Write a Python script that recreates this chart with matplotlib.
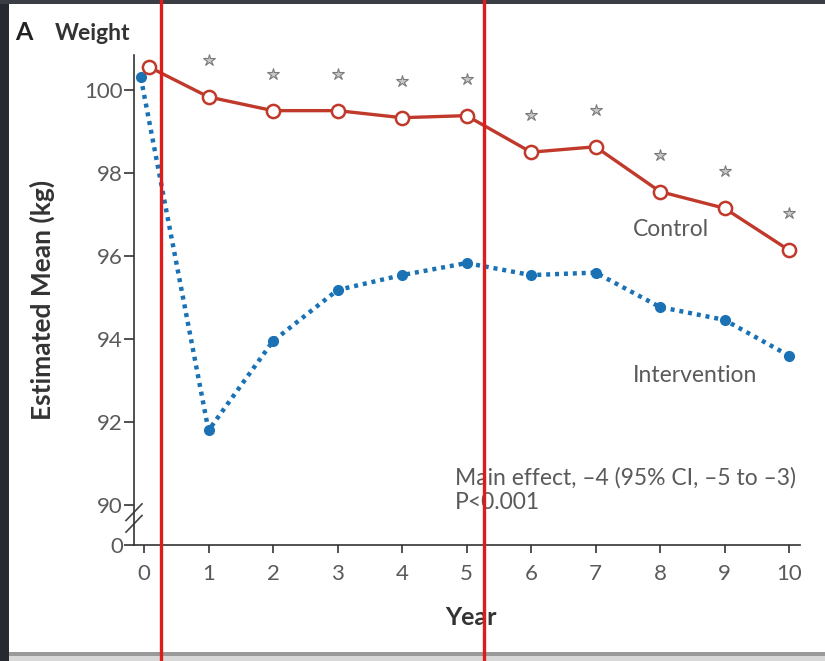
import matplotlib
matplotlib.use("Agg")
import matplotlib.pyplot as plt
from matplotlib.lines import Line2D
from matplotlib.patches import Rectangle
import matplotlib.transforms as mtrans

# ---- data ----
years = [0, 1, 2, 3, 4, 5, 6, 7, 8, 9, 10]
control_x = [0.08, 1, 2, 3, 4, 5, 6, 7, 8, 9, 10]
control = [100.55, 99.83, 99.5, 99.5, 99.33, 99.38, 98.5, 98.63, 97.55, 97.15, 96.14]
intervention_x = [-0.05, 1, 2, 3, 4, 5, 6, 7, 8, 9, 10]
intervention = [100.3, 91.8, 93.95, 95.18, 95.54, 95.83, 95.54, 95.6, 94.77, 94.46, 93.6]
star_years = [1, 2, 3, 4, 5, 6, 7, 8, 9, 10]
ytick_vals = [89.04, 90, 92, 94, 96, 98, 100]
ytick_labels = ["0", "90", "92", "94", "96", "98", "100"]
xtick_labels = [str(y) for y in years]
highlight_x = [0.26, 5.27]   # red overlay lines (data x)

FONT = "Lato"
GRAY = "#5a5a5a"
RED = "#c0392b"
BLUE = "#1a72b5"

fig = plt.figure(figsize=(8.25, 6.61), dpi=100)
fig.patch.set_facecolor("white")

ax = fig.add_axes([134/825, 1-545/661, 666/825, 490/661])
ax.set_xlim(-0.155, 10.17)
ax.set_ylim(89.04, 100.84)
for s in ["top", "right"]:
    ax.spines[s].set_visible(False)
for s in ["left", "bottom"]:
    ax.spines[s].set_color("#333333")
    ax.spines[s].set_linewidth(1.2)

ax.set_xticks(years)
ax.set_xticklabels(xtick_labels, fontfamily=FONT, fontsize=16, color=GRAY)
ax.set_yticks(ytick_vals)
ax.set_yticklabels(ytick_labels, fontfamily=FONT, fontsize=16, color=GRAY)
ax.tick_params(axis="y", length=7, width=1.2, color="#333333", pad=1)
ax.tick_params(axis="x", length=6, width=1.2, color="#333333", pad=8)

# axis break marks
brk = mtrans.blended_transform_factory(ax.transAxes, ax.transData)
for dy in (-0.0, 0.28):
    ax.add_line(Line2D([-0.012, 0.012], [89.35 + dy, 89.75 + dy], transform=brk,
                       color="#444444", lw=1.2, clip_on=False))

# series
ax.plot(intervention_x, intervention, color=BLUE, lw=3.2, linestyle=(0, (0.9, 1.1)),
        marker="o", ms=7, mfc=BLUE, mec=BLUE, clip_on=False, zorder=3)
ax.plot(control_x, control, color=RED, lw=2.4, marker="o", ms=9.5,
        mfc="white", mec=RED, mew=1.8, clip_on=False, zorder=4)

# significance stars above control points
star_tr = ax.transData + mtrans.ScaledTranslation(0, 0.37, fig.dpi_scale_trans)
ax.plot(star_years, control[1:], linestyle="none", marker="*", ms=9,
        mfc="#c8c8c8", mec="#7a7a7a", mew=0.8, transform=star_tr, clip_on=False)

TS = 16.5
ax.text(7.58, 96.63, "Control", fontfamily=FONT, fontsize=TS, color=GRAY, va="center")
ax.text(7.58, 93.13, "Intervention", fontfamily=FONT, fontsize=TS, color=GRAY, va="center")
ax.text(4.82, 90.65, "Main effect, \u20134 (95% CI, \u20135 to \u20133)", fontfamily=FONT,
        fontsize=TS, color=GRAY, va="center")
ax.text(4.82, 90.07, "P<0.001", fontfamily=FONT, fontsize=TS, color=GRAY, va="center")

ax.set_ylabel("Estimated Mean (kg)", fontfamily=FONT, fontsize=19, fontweight="bold", color="#333333")
ax.yaxis.set_label_coords(-0.119, 0.5)
ax.set_xlabel("Year", fontfamily=FONT, fontsize=18, fontweight="bold", color="#333333")
ax.xaxis.set_label_coords(0.506, -0.125)

fig.text(15/825, 1-33/661, "A", fontfamily=FONT, fontsize=18, fontweight="bold",
         color="#222222", va="center")
fig.text(55/825, 1-33/661, "Weight", fontfamily=FONT, fontsize=16.5, fontweight="bold",
         color="#333333", va="center")

# screenshot frame
fig.add_artist(Rectangle((0, 0), 9/825, 1, transform=fig.transFigure,
                         facecolor="#262930", edgecolor="none", zorder=10))
fig.add_artist(Rectangle((0, 1-4/661), 1, 4/661, transform=fig.transFigure,
                         facecolor="#3a3d44", edgecolor="none", zorder=10))
fig.add_artist(Rectangle((0, 0), 1, 9/661, transform=fig.transFigure,
                         facecolor="#d8d8d8", edgecolor="none", zorder=9))
fig.add_artist(Rectangle((0, 5/661), 1, 4/661, transform=fig.transFigure,
                         facecolor="#9a9a9a", edgecolor="none", zorder=9))

# red overlay lines spanning the full image height
fig.canvas.draw()
for hx in highlight_x:
    px = ax.transData.transform((hx, 95))[0]
    fx = fig.transFigure.inverted().transform((px, 0))[0]
    fig.add_artist(Line2D([fx, fx], [0, 1], transform=fig.transFigure,
                          color="#e01b1b", lw=2.4, zorder=11))

fig.savefig("out.png", dpi=100)
